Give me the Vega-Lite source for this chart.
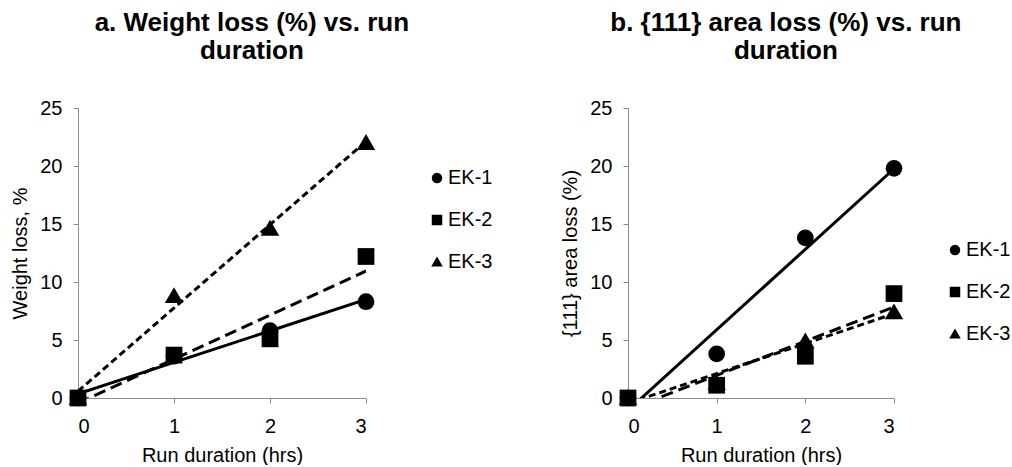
{
  "$schema": "https://vega.github.io/schema/vega-lite/v6.json",
  "background": "white",
  "padding": {"left": 10, "top": 10, "right": 0, "bottom": 0},
  "spacing": 67,
  "resolve": {"scale": {"shape": "independent"}, "legend": {"shape": "independent"}},
  "datasets": {
    "weight": [
      {"hrs": 0, "loss": 0, "sample": "EK-1"},
      {"hrs": 1, "loss": 3.6, "sample": "EK-1"},
      {"hrs": 2, "loss": 5.8, "sample": "EK-1"},
      {"hrs": 3, "loss": 8.3, "sample": "EK-1"},
      {"hrs": 0, "loss": 0, "sample": "EK-2"},
      {"hrs": 1, "loss": 3.7, "sample": "EK-2"},
      {"hrs": 2, "loss": 5.1, "sample": "EK-2"},
      {"hrs": 3, "loss": 12.2, "sample": "EK-2"},
      {"hrs": 0, "loss": 0, "sample": "EK-3"},
      {"hrs": 1, "loss": 8.8, "sample": "EK-3"},
      {"hrs": 2, "loss": 14.6, "sample": "EK-3"},
      {"hrs": 3, "loss": 22.0, "sample": "EK-3"}
    ],
    "area": [
      {"hrs": 0, "loss": 0, "sample": "EK-1"},
      {"hrs": 1, "loss": 3.8, "sample": "EK-1"},
      {"hrs": 2, "loss": 13.8, "sample": "EK-1"},
      {"hrs": 3, "loss": 19.8, "sample": "EK-1"},
      {"hrs": 0, "loss": 0, "sample": "EK-2"},
      {"hrs": 1, "loss": 1.1, "sample": "EK-2"},
      {"hrs": 2, "loss": 3.6, "sample": "EK-2"},
      {"hrs": 3, "loss": 9.0, "sample": "EK-2"},
      {"hrs": 0, "loss": 0, "sample": "EK-3"},
      {"hrs": 1, "loss": 1.3, "sample": "EK-3"},
      {"hrs": 2, "loss": 4.9, "sample": "EK-3"},
      {"hrs": 3, "loss": 7.4, "sample": "EK-3"}
    ]
  },
  "config": {
    "font": "Liberation Sans",
    "view": {"stroke": null},
    "axis": {
      "grid": false,
      "domainColor": "#8c8c8c",
      "tickColor": "#8c8c8c",
      "domainWidth": 1,
      "tickWidth": 1,
      "tickSize": 5,
      "labelFont": "Liberation Sans",
      "labelFontSize": 20,
      "labelColor": "black",
      "titleFont": "Liberation Sans",
      "titleFontSize": 20,
      "titleFontWeight": "normal",
      "titleColor": "black"
    },
    "axisX": {"labelPadding": 13, "titlePadding": 9},
    "axisY": {"labelPadding": 11, "titlePadding": 9},
    "title": {
      "font": "Liberation Sans",
      "fontSize": 26,
      "fontWeight": "bold",
      "color": "black",
      "anchor": "middle",
      "frame": "bounds",
      "lineHeight": 28,
      "offset": 34
    },
    "legend": {
      "labelFont": "Liberation Sans",
      "labelFontSize": 20,
      "labelColor": "black",
      "symbolSize": 110,
      "symbolFillColor": "black",
      "symbolStrokeColor": "black",
      "symbolStrokeWidth": 0,
      "rowPadding": 22,
      "labelOffset": 1
    }
  },
  "hconcat": [
    {
      "width": 288,
      "height": 290,
      "title": {"text": ["a. Weight loss (%) vs. run", "duration"]},
      "data": {"name": "weight"},
      "encoding": {
        "x": {"field": "hrs", "type": "quantitative", "scale": {"domain": [0, 3], "nice": false}, "axis": {"values": [0, 1, 2, 3], "format": "d", "title": "Run duration (hrs)"}},
        "y": {"field": "loss", "type": "quantitative", "scale": {"domain": [0, 25], "nice": false}, "axis": {"values": [0, 5, 10, 15, 20, 25], "title": "Weight loss, %"}}
      },
      "layer": [
        {
          "transform": [{"filter": "datum.sample === 'EK-1'"}, {"regression": "loss", "on": "hrs", "extent": [0, 3]}],
          "mark": {"type": "line", "clip": true, "color": "black", "strokeWidth": 3}
        },
        {
          "transform": [{"filter": "datum.sample === 'EK-2'"}, {"regression": "loss", "on": "hrs", "extent": [0, 3]}],
          "mark": {"type": "line", "clip": true, "color": "black", "strokeWidth": 3, "strokeDash": [12, 6]}
        },
        {
          "transform": [{"filter": "datum.sample === 'EK-3'"}, {"regression": "loss", "on": "hrs", "extent": [0, 3]}],
          "mark": {"type": "line", "clip": true, "color": "black", "strokeWidth": 3, "strokeDash": [7, 4]}
        },
        {
          "mark": {"type": "point", "filled": true, "opacity": 1, "color": "black", "size": 280, "strokeWidth": 0},
          "encoding": {
            "shape": {"field": "sample", "type": "nominal", "scale": {"domain": ["EK-1", "EK-2", "EK-3"], "range": ["circle", "square", "M0,-1.05L1.1,0.85L-1.1,0.85Z"]}, "legend": {"title": null, "orient": "none", "legendX": 349, "legendY": 60}}
          }
        }
      ]
    },
    {
      "width": 266,
      "height": 290,
      "title": {"text": ["b. {111} area loss (%) vs. run", "duration"]},
      "data": {"name": "area"},
      "encoding": {
        "x": {"field": "hrs", "type": "quantitative", "scale": {"domain": [0, 3], "nice": false}, "axis": {"values": [0, 1, 2, 3], "format": "d", "title": "Run duration (hrs)"}},
        "y": {"field": "loss", "type": "quantitative", "scale": {"domain": [0, 25], "nice": false}, "axis": {"values": [0, 5, 10, 15, 20, 25], "title": "{111} area loss (%)"}}
      },
      "layer": [
        {
          "transform": [{"filter": "datum.sample === 'EK-1'"}, {"regression": "loss", "on": "hrs", "extent": [0, 3]}],
          "mark": {"type": "line", "clip": true, "color": "black", "strokeWidth": 3}
        },
        {
          "transform": [{"filter": "datum.sample === 'EK-2'"}, {"regression": "loss", "on": "hrs", "extent": [0, 3]}],
          "mark": {"type": "line", "clip": true, "color": "black", "strokeWidth": 3, "strokeDash": [12, 6]}
        },
        {
          "transform": [{"filter": "datum.sample === 'EK-3'"}, {"regression": "loss", "on": "hrs", "extent": [0, 3]}],
          "mark": {"type": "line", "clip": true, "color": "black", "strokeWidth": 3, "strokeDash": [7, 4]}
        },
        {
          "mark": {"type": "point", "filled": true, "opacity": 1, "color": "black", "size": 280, "strokeWidth": 0},
          "encoding": {
            "shape": {"field": "sample", "type": "nominal", "scale": {"domain": ["EK-1", "EK-2", "EK-3"], "range": ["circle", "square", "M0,-1.05L1.1,0.85L-1.1,0.85Z"]}, "legend": {"title": null, "orient": "none", "legendX": 317, "legendY": 132}}
          }
        }
      ]
    }
  ]
}
